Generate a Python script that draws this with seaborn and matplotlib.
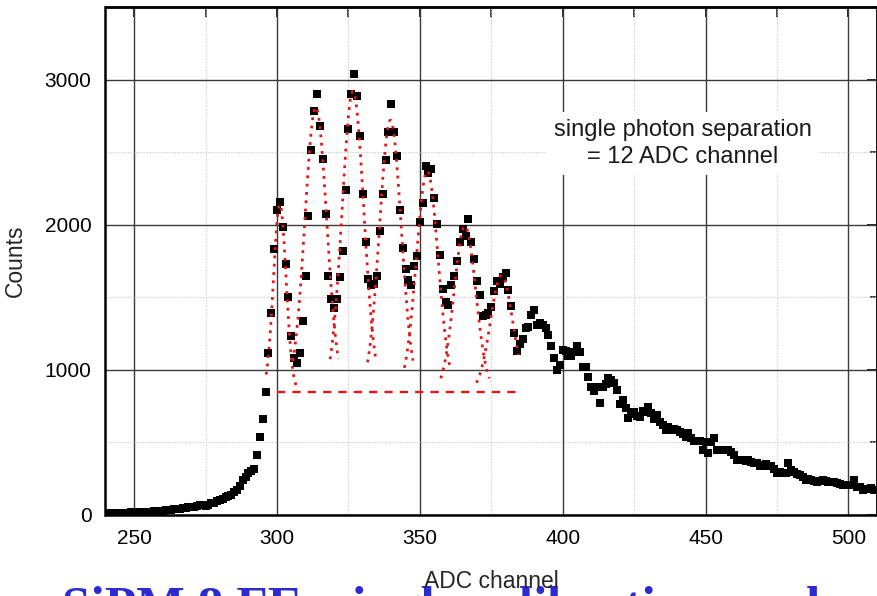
import numpy as np
import pandas as pd
import matplotlib
matplotlib.use("Agg")
import matplotlib.pyplot as plt
import seaborn as sns
from matplotlib.ticker import MultipleLocator

# ---------------- data ----------------
channel_start = 240
counts = [
    10, 10, 12, 12, 14, 14, 15, 16, 16, 18, 18, 19, 20, 20, 22, 23, 24, 25, 26, 28, 30, 32, 34,   # 240-262
    36, 38, 42, 40, 46, 50, 52, 56, 58, 62, 66, 70, 64, 72, 80, 86, 94, 102, 112, 122, 134,       # 263-283
    138, 160, 172, 200, 241, 262, 287, 305, 318, 414, 540, 660,                                  # 284-295
    846, 1119, 1395, 1834, 2103, 2154, 1981, 1731, 1501, 1234, 1085, 1050, 1119, 1340, 1648,     # 296-310
    2057, 2513, 2786, 2899, 2683, 2455, 2076, 1650, 1487, 1425, 1487, 1637, 1816, 2237, 2662,    # 311-325
    2899, 3039, 2885, 2614, 2214, 1881, 1628, 1586, 1593, 1648, 1954, 2209, 2448, 2637, 2832,    # 326-340
    2637, 2471, 2103, 1839, 1694, 1616, 1586, 1713, 1782, 2018, 2149, 2402, 2357, 2384, 2184,    # 341-355
    2007, 1793, 1556, 1467, 1444, 1584, 1644, 1747, 1883, 1972, 1924, 2039, 1883, 1763, 1609,    # 356-370
    1513, 1368, 1379, 1395, 1430, 1540, 1609, 1593, 1639, 1667, 1547, 1437, 1253, 1131, 1179,    # 371-385
    1211, 1287, 1294, 1379, 1414, 1310, 1326, 1310, 1290, 1241, 1161, 1081, 1000, 1034, 1138,    # 386-400
    1133, 1097, 1097, 1126, 1161, 1126, 1023, 1023, 950, 885, 857, 885, 770, 881, 900,           # 401-415
    943, 931, 912, 862, 766, 793, 740, 667, 697, 712, 683, 678, 719, 712, 747,                   # 416-430
    700, 660, 690, 640, 621, 586, 609, 586, 591, 586, 574, 560, 540, 568, 530,                   # 431-445
    512, 512, 510, 448, 506, 430, 506, 529, 448, 448, 450, 448, 445, 437, 410,                   # 446-460
    379, 380, 377, 375, 379, 368, 360, 355, 338, 345, 352, 340, 338, 320, 292,                   # 461-475
    295, 287, 290, 356, 310, 299, 285, 276, 260, 241, 245, 241, 235, 230, 236,                   # 476-490
    241, 235, 230, 228, 225, 219, 212, 207, 205, 207, 210, 241, 195, 190, 172,                   # 491-505
    180, 182, 184, 175, 172,                                                                     # 506-510
]
channels = list(range(channel_start, channel_start + len(counts)))

# Gaussian fit parameters (one photo-electron peak each)
fit_centers = [301.0, 313.6, 326.6, 339.7, 352.6, 365.8, 378.6]
fit_peaks = [2140, 2810, 2920, 2720, 2370, 1990, 1650]
fit_sigmas = [2.2, 3.8, 3.8, 3.8, 3.8, 3.8, 3.9]
fit_lo = [296.2, 305.6, 318.6, 331.7, 344.6, 357.3, 369.8]
fit_hi = [306.9, 321.5, 334.6, 347.6, 360.6, 374.3, 384.5]
fit_baseline = 848
baseline_range = [300.0, 384.5]

x_ticks = [250, 300, 350, 400, 450, 500]
y_ticks = [0, 1000, 2000, 3000]
annotation = "single photon separation\n= 12 ADC channel"
title_text = "SiPM 8 FE: single calibration mode"

# ---------------- figure ----------------
sns.set_style("white")
plt.rcParams["font.family"] = ["Liberation Sans", "DejaVu Sans"]

W, H = 878, 596
fig = plt.figure(figsize=(W / 100, H / 100), dpi=100)
ax = fig.add_axes([105.5 / W, (H - 515) / H, (877 - 105.5) / W, (515 - 7) / H])

df = pd.DataFrame({"ADC channel": channels, "Counts": counts})
sns.scatterplot(data=df, x="ADC channel", y="Counts", ax=ax, marker="s",
                s=30, color="black", linewidth=0, zorder=3)

# Gaussian fit curves
for c, p, s, lo, hi in zip(fit_centers, fit_peaks, fit_sigmas, fit_lo, fit_hi):
    xs = np.linspace(lo, hi, 120)
    ys = fit_baseline + (p - fit_baseline) * np.exp(-(xs - c) ** 2 / (2 * s ** 2))
    sns.lineplot(x=xs, y=ys, ax=ax, color="#e01818", linestyle=(0, (1, 2.0)),
                 linewidth=2.0, zorder=4, estimator=None, sort=False)
sns.lineplot(x=baseline_range, y=[fit_baseline, fit_baseline], ax=ax, color="#e01818",
             linestyle=(0, (3.5, 3)), linewidth=1.7, zorder=4, estimator=None)

ax.set_xlim(240, 510)
ax.set_ylim(0, 3500)
ax.set_xticks(x_ticks)
ax.set_yticks(y_ticks)
ax.xaxis.set_minor_locator(MultipleLocator(25))
ax.yaxis.set_minor_locator(MultipleLocator(500))

ax.grid(True, which="major", color="#3a3a3a", linewidth=1.0, linestyle="-")
ax.grid(True, which="minor", color="#c4c4c4", linewidth=0.8, linestyle=(0, (1, 1.5)))
ax.set_axisbelow(True)

for sp in ax.spines.values():
    sp.set_color("black")
    sp.set_linewidth(1.8)

ax.tick_params(axis="both", which="major", direction="out", length=6, width=1.4,
               labelsize=15, colors="black", pad=4)
ax.tick_params(axis="both", which="minor", direction="out", length=4, width=1.2)

# inward ticks on top and right
secx = ax.secondary_xaxis("top")
secx.set_xticks(x_ticks)
secx.xaxis.set_minor_locator(MultipleLocator(25))
secx.tick_params(which="major", direction="in", length=7, width=1.4, labeltop=False)
secx.tick_params(which="minor", direction="in", length=7, width=1.2)
secx.spines["top"].set_linewidth(1.8)
secy = ax.secondary_yaxis("right")
secy.set_yticks(y_ticks)
secy.yaxis.set_minor_locator(MultipleLocator(500))
secy.tick_params(which="major", direction="in", length=7, width=1.4, labelright=False)
secy.tick_params(which="minor", direction="in", length=5, width=1.2)
secy.spines["right"].set_linewidth(1.8)

ax.set_xlabel("ADC channel", fontsize=16.5, labelpad=16)
ax.set_ylabel("Counts", fontsize=16.5, labelpad=13)

ax.text(442, 2560, annotation, ha="center", va="center", fontsize=17, color="#1a1a1a",
        linespacing=1.25, zorder=6,
        bbox=dict(boxstyle="square,pad=0.3", facecolor="white", edgecolor="none"))

fig.text(62 / W, 1 - 586 / H, title_text, ha="left", va="top", fontsize=37,
         fontweight="bold", color="#2b2bd0", family=["Liberation Serif", "DejaVu Serif"],
         zorder=-1)

fig.savefig("out.png", dpi=100)
